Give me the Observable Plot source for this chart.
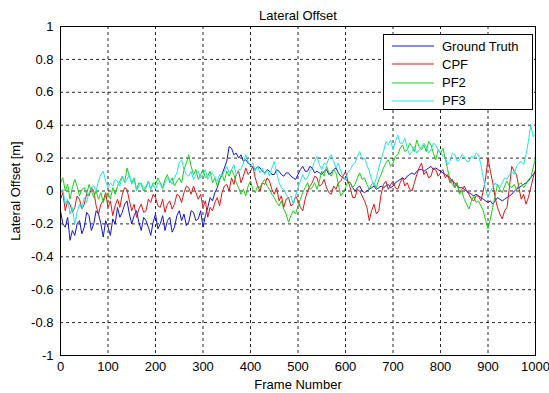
<!DOCTYPE html>
<html>
<head>
<meta charset="utf-8">
<script src="https://cdn.jsdelivr.net/npm/d3@7"></script>
<script src="https://cdn.jsdelivr.net/npm/@observablehq/plot@0.6"></script>
<style>
  html, body { margin: 0; padding: 0; background: #fff; }
  #wrap { position: relative; width: 549px; height: 393px; font-family: "Liberation Sans", Arial, sans-serif; }
  #legend { position: absolute; left: 383px; top: 34px; width: 150px; height: 76px; border: 1px solid #000; background: #fff; box-sizing: border-box; }
  .item { position: absolute; left: 0; height: 18px; display: flex; align-items: center; font-size: 13px; color: #000; }
  .item svg { margin-left: 8px; margin-right: 8px; }
</style>
</head>
<body>
<div id="wrap"><div id="chart"></div><div id="legend"></div></div>
<script>
const seriesNames = ["Ground Truth", "CPF", "PF2", "PF3"];
const seriesColors = ["#1414d8", "#e41414", "#14d414", "#22e6e6"];
const frameStep = 5;
const xTicks = [0, 100, 200, 300, 400, 500, 600, 700, 800, 900, 1000];
const yTicks = [-1, -0.8, -0.6, -0.4, -0.2, 0, 0.2, 0.4, 0.6, 0.8, 1];

// values every 5 frames
const groundTruth = [
  -0.12,-0.20,-0.22,-0.16,-0.30,-0.24,-0.27,-0.20,-0.18,-0.26,
  -0.22,-0.13,-0.15,-0.24,-0.20,-0.12,-0.14,-0.20,-0.28,-0.18,
  -0.22,-0.27,-0.17,-0.20,-0.10,-0.16,-0.13,-0.08,-0.06,-0.14,
  -0.20,-0.15,-0.12,-0.19,-0.24,-0.16,-0.18,-0.22,-0.27,-0.19,
  -0.14,-0.23,-0.20,-0.15,-0.24,-0.18,-0.16,-0.25,-0.22,-0.15,
  -0.12,-0.18,-0.14,-0.21,-0.19,-0.12,-0.13,-0.18,-0.17,-0.12,
  -0.22,-0.15,-0.10,-0.04,-0.06,-0.01,0.02,0.07,0.10,0.14,
  0.18,0.27,0.26,0.22,0.23,0.20,0.22,0.18,0.19,0.17,
  0.16,0.14,0.13,0.15,0.14,0.12,0.11,0.13,0.12,0.10,
  0.10,0.13,0.12,0.10,0.09,0.11,0.11,0.09,0.08,0.07,
  0.10,0.13,0.15,0.12,0.12,0.15,0.14,0.11,0.12,0.11,
  0.10,0.12,0.13,0.10,0.11,0.13,0.14,0.11,0.09,0.08,
  0.07,0.06,0.05,0.02,0.00,0.02,0.03,0.00,-0.01,0.00,
  0.01,0.02,0.03,0.01,0.02,0.03,0.02,0.03,0.04,0.02,
  0.03,0.05,0.06,0.07,0.08,0.07,0.09,0.10,0.11,0.10,
  0.12,0.13,0.13,0.12,0.13,0.14,0.15,0.13,0.14,0.13,
  0.12,0.11,0.10,0.09,0.08,0.06,0.05,0.03,0.02,0.02,
  0.01,0.00,-0.01,-0.02,-0.03,-0.02,-0.03,-0.04,-0.05,-0.06,
  -0.07,-0.06,-0.08,-0.06,-0.04,-0.05,-0.06,-0.05,-0.04,-0.03,
  -0.02,0.00,0.01,0.02,0.03,0.04,0.05,0.06,0.08,0.10,
  0.12
];
const cpf = [
  -0.05,-0.01,-0.12,-0.06,-0.08,-0.13,-0.10,-0.03,-0.05,-0.11,
  -0.08,-0.02,-0.03,0.02,0.00,-0.09,-0.14,-0.08,-0.06,-0.01,
  -0.10,-0.06,-0.15,-0.09,-0.05,-0.10,-0.02,0.02,0.01,-0.06,
  -0.12,-0.08,-0.16,-0.11,-0.08,-0.13,-0.12,-0.05,-0.07,-0.02,
  -0.04,-0.09,-0.10,-0.05,-0.13,-0.08,-0.06,-0.11,-0.08,-0.02,
  -0.03,-0.07,-0.01,0.03,0.02,-0.02,0.03,-0.01,-0.05,-0.02,
  -0.10,-0.06,-0.16,-0.10,-0.12,-0.07,-0.04,-0.09,-0.01,0.03,
  0.04,0.00,0.08,0.04,0.10,0.12,0.05,0.09,0.14,0.10,
  0.12,0.15,0.08,0.03,0.00,0.05,0.04,0.08,0.06,0.01,
  -0.02,0.02,-0.06,-0.03,-0.10,-0.05,-0.04,-0.09,-0.08,-0.03,
  -0.06,-0.10,-0.12,-0.05,0.00,0.03,0.05,0.09,0.08,0.03,
  0.04,0.07,0.02,-0.01,-0.02,0.03,0.01,0.05,0.06,0.09,
  0.12,0.06,0.02,-0.04,-0.04,0.01,0.00,-0.03,-0.06,-0.10,
  -0.18,-0.12,-0.08,-0.14,-0.12,-0.02,0.04,0.06,0.01,0.04,
  0.06,0.02,0.01,0.05,0.08,0.03,0.05,0.01,0.00,0.05,
  0.10,0.14,0.17,0.10,0.12,0.08,0.09,0.14,0.13,0.09,
  0.11,0.13,0.08,0.10,0.05,0.07,0.02,0.05,-0.01,0.01,
  0.03,0.00,-0.02,-0.05,-0.06,-0.03,-0.03,-0.06,0.00,0.08,
  0.20,0.12,0.05,-0.04,-0.10,-0.14,-0.17,-0.12,-0.10,0.02,
  0.15,0.12,0.10,0.02,-0.05,-0.02,-0.08,-0.04,0.02,0.08,
  0.13
];
const pf2 = [
  0.05,0.08,0.00,0.04,-0.05,0.02,0.07,0.03,-0.03,0.01,
  0.02,-0.02,0.04,0.00,-0.04,0.00,-0.05,-0.01,-0.07,-0.03,
  -0.01,-0.05,0.02,-0.02,0.03,0.06,0.09,0.05,0.14,0.09,
  0.05,0.08,0.01,0.05,0.04,0.00,0.02,0.06,0.01,0.05,
  0.04,0.08,0.05,0.02,0.07,0.10,0.05,0.08,0.03,0.06,
  0.08,0.05,0.13,0.17,0.22,0.15,0.10,0.13,0.07,0.10,
  0.13,0.08,0.09,0.12,0.05,0.08,0.03,0.07,0.10,0.06,
  0.12,0.09,0.13,0.10,0.05,0.02,-0.02,0.01,-0.03,0.03,
  0.06,0.01,-0.01,0.03,0.02,0.05,0.07,0.03,0.01,-0.02,
  -0.04,-0.07,-0.09,-0.06,-0.11,-0.14,-0.19,-0.15,-0.12,-0.14,
  -0.09,-0.05,-0.01,0.02,0.05,0.01,0.02,0.05,0.01,0.06,
  0.12,0.09,0.15,0.11,0.09,0.13,0.11,0.04,-0.03,-0.01,
  0.02,0.06,0.05,0.02,0.04,0.08,0.11,0.07,0.08,0.04,
  0.01,0.04,0.05,0.02,0.07,0.10,0.14,0.17,0.19,0.15,
  0.17,0.21,0.22,0.26,0.28,0.24,0.25,0.29,0.27,0.24,
  0.31,0.27,0.25,0.28,0.24,0.30,0.28,0.23,0.19,0.25,
  0.23,0.26,0.20,0.13,0.07,0.04,0.02,0.05,-0.02,0.00,
  -0.05,-0.08,-0.11,-0.06,-0.03,-0.07,-0.06,-0.09,-0.12,-0.18,
  -0.23,-0.17,-0.10,-0.03,0.04,0.01,-0.01,0.03,0.06,0.03,
  0.02,0.04,0.01,0.04,0.05,0.02,0.04,0.07,0.08,0.14,
  0.20
];
const pf3 = [
  -0.02,0.01,-0.08,-0.05,-0.14,-0.10,-0.20,-0.13,-0.08,-0.11,
  -0.04,-0.07,-0.01,0.02,0.03,0.00,0.06,0.10,0.12,0.06,
  0.02,0.05,0.03,0.07,0.06,0.03,0.09,0.05,0.07,0.10,
  0.04,0.07,0.00,0.03,0.05,0.01,0.03,0.06,0.01,0.04,
  0.01,0.05,0.04,0.01,0.05,0.08,0.07,0.04,0.08,0.11,
  0.17,0.19,0.13,0.10,0.09,0.12,0.07,0.10,0.12,0.08,
  0.10,0.13,0.07,0.10,0.11,0.08,0.06,0.10,0.09,0.12,
  0.15,0.11,0.13,0.16,0.10,0.13,0.13,0.17,0.22,0.18,
  0.15,0.17,0.12,0.15,0.11,0.14,0.10,0.13,0.09,0.14,
  0.18,0.11,0.05,0.02,0.01,-0.02,-0.05,-0.03,-0.08,-0.03,
  0.02,0.06,0.10,0.07,0.08,0.12,0.14,0.18,0.21,0.16,
  0.13,0.17,0.16,0.20,0.22,0.18,0.14,0.17,0.12,0.09,
  0.07,0.11,0.13,0.16,0.17,0.21,0.24,0.19,0.20,0.16,
  0.12,0.07,0.03,0.08,0.14,0.19,0.24,0.30,0.28,0.31,
  0.25,0.30,0.34,0.29,0.29,0.32,0.26,0.22,0.24,0.27,
  0.23,0.25,0.27,0.29,0.27,0.23,0.25,0.29,0.28,0.25,
  0.24,0.21,0.20,0.16,0.18,0.23,0.22,0.18,0.19,0.22,
  0.21,0.18,0.18,0.21,0.20,0.23,0.22,0.16,0.08,0.01,
  -0.04,0.00,0.02,0.05,0.03,0.02,0.05,0.08,0.07,0.10,
  0.12,0.10,0.15,0.17,0.18,0.16,0.22,0.30,0.40,0.33,
  0.35
];
const seriesValues = [groundTruth, cpf, pf2, pf3];

const data = seriesNames.flatMap((name, i) =>
  seriesValues[i].map((v, j) => ({frame: j * frameStep, value: v, series: name}))
);

const font = "'Liberation Sans', Arial, sans-serif";
const chart = Plot.plot({
  width: 549,
  height: 393,
  marginLeft: 60,
  marginRight: 14,
  marginTop: 26,
  marginBottom: 38,
  style: {fontFamily: font, fontSize: "13px", background: "#fff", color: "#000", overflow: "visible"},
  x: {domain: [0, 1000]},
  y: {domain: [-1, 1]},
  color: {domain: seriesNames, range: seriesColors},
  marks: [
    Plot.gridX(xTicks, {stroke: "#000", strokeOpacity: 0.85, strokeDasharray: "3,3"}),
    Plot.gridY(yTicks, {stroke: "#000", strokeOpacity: 0.85, strokeDasharray: "3,3"}),
    Plot.lineY(data, {x: "frame", y: "value", z: "series", stroke: "series", strokeWidth: 1}),
    Plot.frame({stroke: "#000", strokeWidth: 1}),
    Plot.axisX(xTicks, {tickSize: 0, tickPadding: 6, label: "Frame Number", labelAnchor: "center", labelArrow: "none", labelOffset: 33, tickFormat: d => String(d)}),
    Plot.axisY(yTicks, {tickSize: 0, tickPadding: 7, label: "Lateral Offset [m]", labelAnchor: "center", labelArrow: "none", labelOffset: 50, tickFormat: d => String(+d.toFixed(1))}),
    Plot.text(["Lateral Offset"], {frameAnchor: "top", dy: -16, fontSize: 13})
  ]
});
document.getElementById("chart").appendChild(chart);

const legend = document.getElementById("legend");
seriesNames.forEach((name, i) => {
  const item = document.createElement("div");
  item.className = "item";
  item.style.top = (2 + i * 18.3) + "px";
  item.innerHTML = `<svg width="42" height="4"><line x1="0" x2="42" y1="2" y2="2" stroke="${seriesColors[i]}" stroke-width="1"/></svg><span>${name}</span>`;
  legend.appendChild(item);
});
</script>
</body>
</html>
